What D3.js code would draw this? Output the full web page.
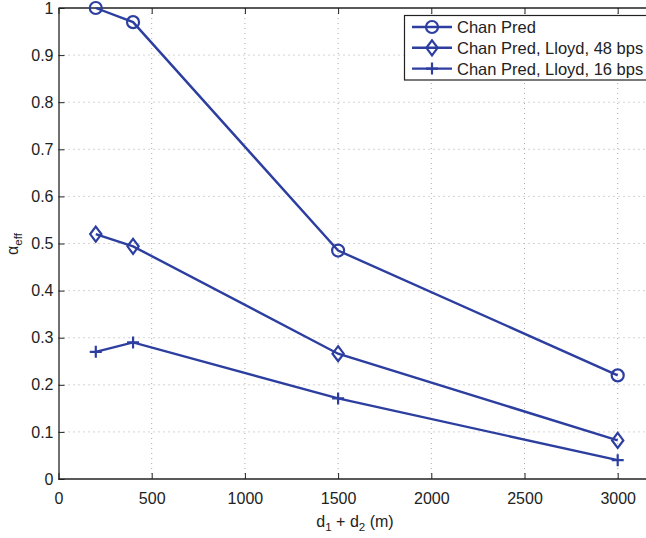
<!DOCTYPE html>
<html>
<head>
<meta charset="utf-8">
<script src="https://cdn.jsdelivr.net/npm/d3@7"></script>
<style>
  body { margin: 0; background: #fff; }
  svg { display: block; font-family: "Liberation Sans", Arial, sans-serif; }
</style>
</head>
<body>
<div id="chart"></div>
<script>
// --- data ---
const distances = [200, 400, 1500, 3000];
const chanPred = [1.0, 0.97, 0.485, 0.22];
const lloyd48 = [0.52, 0.494, 0.266, 0.082];
const lloyd16 = [0.27, 0.29, 0.171, 0.04];
const seriesNames = ["Chan Pred", "Chan Pred, Lloyd, 48 bps", "Chan Pred, Lloyd, 16 bps"];
const xTicks = [0, 500, 1000, 1500, 2000, 2500, 3000];
const yTicks = [0, 0.1, 0.2, 0.3, 0.4, 0.5, 0.6, 0.7, 0.8, 0.9, 1];

const W = 646, H = 538;
const plotLeft = 58.5, plotTop = 8, plotBottom = 479;
const blue = "#2c3e9f";
const fs = "16px";

const x = d3.scaleLinear().domain([0, 3200]).range([plotLeft, plotLeft + 3200 * (559.2 / 3000)]);
const y = d3.scaleLinear().domain([0, 1]).range([plotBottom, plotTop]);

const svg = d3.select("#chart").append("svg")
    .attr("width", W)
    .attr("height", H);

// grid
svg.append("g").selectAll("line")
    .data(xTicks.slice(1))
    .enter().append("line")
    .attr("x1", d => x(d)).attr("x2", d => x(d))
    .attr("y1", plotTop).attr("y2", plotBottom)
    .attr("stroke", "#aaa").attr("stroke-width", 1)
    .attr("stroke-dasharray", "1,4");

svg.append("g").selectAll("line")
    .data(yTicks.slice(1, -1))
    .enter().append("line")
    .attr("x1", plotLeft).attr("x2", W)
    .attr("y1", d => y(d)).attr("y2", d => y(d))
    .attr("stroke", "#aaa").attr("stroke-width", 1)
    .attr("stroke-dasharray", "1,4");

// axes (MATLAB style: ticks inside)
const xAxis = d3.axisBottom(x).tickValues(xTicks).tickFormat(d3.format("d"))
    .tickSizeInner(-6).tickSizeOuter(0).tickPadding(14);
const yAxis = d3.axisLeft(y).tickValues(yTicks).tickFormat(d => d3.format("~g")(d))
    .tickSizeInner(-6).tickSizeOuter(0).tickPadding(5);

const gx = svg.append("g")
    .attr("transform", `translate(0,${plotBottom})`)
    .call(xAxis);
const gy = svg.append("g")
    .attr("transform", `translate(${plotLeft},0)`)
    .call(yAxis);

// top border with inner ticks
const gt = svg.append("g")
    .attr("transform", `translate(0,${plotTop})`)
    .call(d3.axisTop(x).tickValues(xTicks).tickSizeInner(-6).tickSizeOuter(0).tickFormat(""));

[gx, gy, gt].forEach(g => {
    g.select(".domain").attr("stroke", "#222").attr("stroke-width", 1.3);
    g.selectAll(".tick line").attr("stroke", "#222");
    g.selectAll("text").attr("fill", "#222").style("font-size", fs);
});
gx.select(".domain").attr("d", `M${plotLeft},0H${W}`);
gt.select(".domain").attr("d", `M${plotLeft},0H${W}`);

// axis labels
const xl = svg.append("text")
    .attr("x", 355).attr("y", 527)
    .attr("text-anchor", "middle")
    .attr("fill", "#222")
    .style("font-size", fs);
xl.append("tspan").text("d");
xl.append("tspan").text("1").attr("dy", 4).style("font-size", "11.5px");
xl.append("tspan").text(" + d").attr("dy", -4);
xl.append("tspan").text("2").attr("dy", 4).style("font-size", "11.5px");
xl.append("tspan").text(" (m)").attr("dy", -4);

const yl = svg.append("text")
    .attr("transform", "translate(18,244) rotate(-90)")
    .attr("text-anchor", "middle")
    .attr("fill", "#222")
    .style("font-size", fs);
yl.append("tspan").text("α");
yl.append("tspan").text("eff").attr("dy", 4).style("font-size", "11.5px");

// markers
function drawMarker(g, kind, cx, cy) {
    if (kind === "circle") {
        g.append("circle").attr("cx", cx).attr("cy", cy).attr("r", 6)
            .attr("fill", "none").attr("stroke", blue).attr("stroke-width", 2.2);
    } else if (kind === "diamond") {
        const s = 7.5;
        g.append("path").attr("d", `M${cx},${cy - s}L${cx + s * 0.75},${cy}L${cx},${cy + s}L${cx - s * 0.75},${cy}Z`)
            .attr("fill", "none").attr("stroke", blue).attr("stroke-width", 2.2);
    } else {
        const s = 6;
        g.append("path").attr("d", `M${cx - s},${cy}H${cx + s}M${cx},${cy - s}V${cy + s}`)
            .attr("fill", "none").attr("stroke", blue).attr("stroke-width", 2.2);
    }
}

const series = [
    { name: seriesNames[0], values: chanPred, marker: "circle" },
    { name: seriesNames[1], values: lloyd48, marker: "diamond" },
    { name: seriesNames[2], values: lloyd16, marker: "plus" }
];

const line = d3.line()
    .x(d => x(d[0]))
    .y(d => y(d[1]));

series.forEach(s => {
    const pts = distances.map((d, i) => [d, s.values[i]]);
    const g = svg.append("g");
    g.append("path")
        .datum(pts)
        .attr("fill", "none")
        .attr("stroke", blue)
        .attr("stroke-width", 2.4)
        .attr("d", line);
    pts.forEach(p => drawMarker(g, s.marker, x(p[0]), y(p[1])));
});

// legend
const lg = svg.append("g");
lg.append("rect")
    .attr("x", 404.5).attr("y", 15.5)
    .attr("width", 250).attr("height", 64.5)
    .attr("fill", "#fff").attr("stroke", "#222").attr("stroke-width", 1.2);

series.forEach((s, i) => {
    const ly = 27 + i * 20.8;
    lg.append("line")
        .attr("x1", 412).attr("x2", 452)
        .attr("y1", ly).attr("y2", ly)
        .attr("stroke", blue).attr("stroke-width", 2.4);
    drawMarker(lg, s.marker, 432, ly);
    lg.append("text")
        .attr("x", 457).attr("y", ly + 6)
        .attr("fill", "#222")
        .style("font-size", "16.5px")
        .text(s.name);
});
</script>
</body>
</html>
